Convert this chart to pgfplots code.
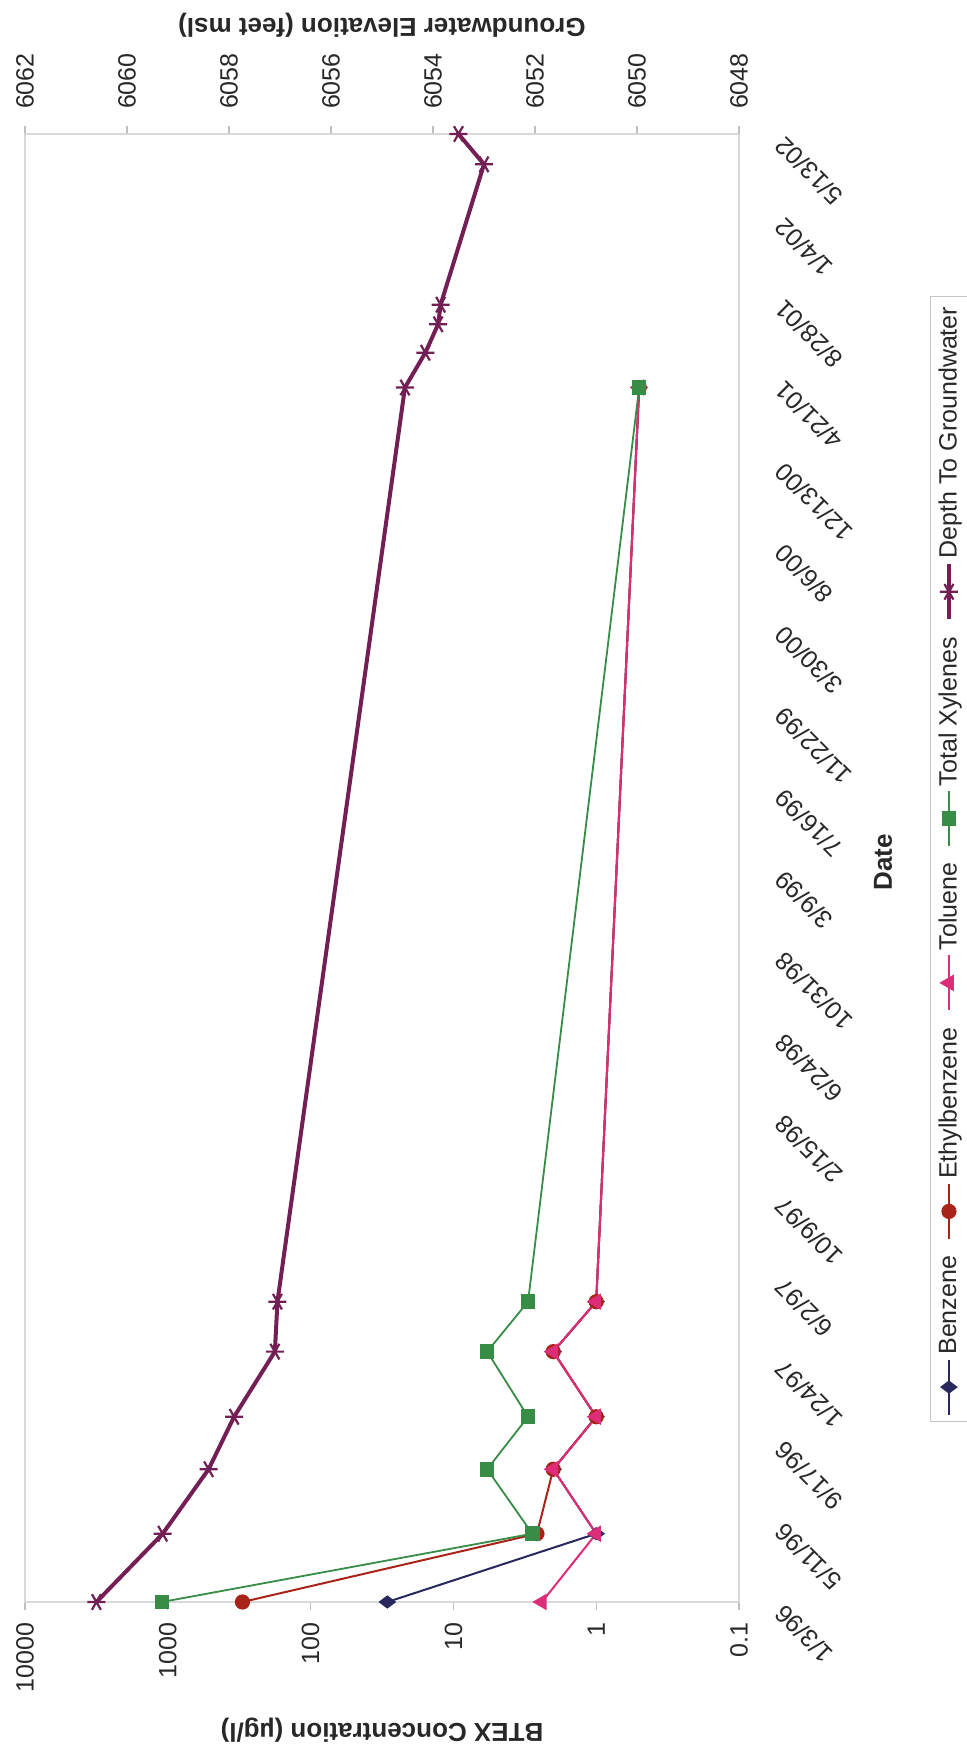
\documentclass[border=0pt]{standalone}
\usepackage{graphicx}
\usepackage{fontspec}
\setmainfont{Liberation Sans}
\usepackage{pgfplots}
\pgfplotsset{compat=1.18}
\definecolor{benz}{RGB}{40,40,95}
\definecolor{ethyl}{RGB}{170,35,25}
\definecolor{tolu}{RGB}{222,45,120}
\definecolor{xyl}{RGB}{55,140,70}
\definecolor{depth}{RGB}{115,30,85}
\definecolor{txt}{RGB}{40,40,40}
\newcommand\ticksize{\fontsize{12.5}{15}\selectfont}
\newcommand\titlesize{\bfseries\fontsize{13}{16}\selectfont}
\pgfplotsset{
  bstyle/.style={color=benz,line width=1pt,mark=diamond*,mark size=3.6pt,mark options={solid,fill=benz}},
  estyle/.style={color=ethyl,line width=1pt,mark=*,mark size=3.3pt,mark options={solid,fill=ethyl}},
  tstyle/.style={color=tolu,line width=1pt,mark=triangle*,mark size=3.8pt,mark options={solid,fill=tolu}},
  xstyle/.style={color=xyl,line width=0.9pt,mark=square*,mark size=3.2pt,mark options={solid,fill=xyl}},
  dstyle/.style={color=depth,line width=2pt,mark=asterisk,mark size=4.5pt,mark options={solid,line width=1.1pt}},
}
\begin{document}
\rotatebox{90}{%
\begin{tikzpicture}
\useasboundingbox (0,0) rectangle (873.5pt,483.5pt);
\begin{axis}[
  at={(72.5pt,114pt)}, anchor=south west, scale only axis,
  width=734pt, height=357pt,
  xmin=0, xmax=2322, ymode=log, ymin=0.1, ymax=10000,
  clip=false,
  axis line style={gray!30, line width=0.6pt},
  xtick={0,129,258,387,516,645,774,903,1032,1161,1290,1419,1548,1677,1806,1935,2064,2193,2322},
  xticklabels={1/3/96,5/11/96,9/17/96,1/24/97,6/2/97,10/9/97,2/15/98,6/24/98,10/31/98,3/9/99,7/16/99,11/22/99,3/30/00,8/6/00,12/13/00,4/21/01,8/28/01,1/4/02,5/13/02},
  xtick style={draw=none},
  xticklabel style={font=\ticksize, text=txt, xshift=-7pt, yshift=-8pt, rotate=45, anchor=north east},
  ytick={0.1,1,10,100,1000,10000},
  yticklabels={0.1,1,10,100,1000,10000},
  yminorticks=false,
  ytick pos=left,
  ytick style={gray!50, line width=0.6pt},
  tick align=outside, major tick length=4pt,
  yticklabel style={font=\ticksize, text=txt, xshift=-3pt},
  xlabel={Date}, ylabel={BTEX Concentration (µg/l)},
  every axis x label/.style={at={(axis description cs:0.504,-0.2017)}, anchor=center, font=\titlesize, text=txt},
  every axis y label/.style={at={(axis description cs:-0.0872,0.5)}, anchor=center, rotate=90, font=\titlesize, text=txt},
]
\addplot[bstyle] coordinates {(0,29) (108,1) (210,2) (293,1) (396,2) (475,1) (1921,0.5)};
\addplot[estyle] coordinates {(0,300) (108,2.6) (210,2) (293,1) (396,2) (475,1) (1921,0.5)};
\addplot[tstyle] coordinates {(0,2.4) (108,1) (210,2) (293,1) (396,2) (475,1) (1921,0.5)};
\addplot[xstyle] coordinates {(0,1100) (108,2.8) (210,5.8) (293,3) (396,5.8) (475,3) (1921,0.5)};
\end{axis}
\begin{axis}[
  at={(72.5pt,114pt)}, anchor=south west, scale only axis,
  width=734pt, height=357pt,
  xmin=0, xmax=2322, ymin=6048, ymax=6062,
  clip=false,
  axis x line=none, axis y line*=right,
  axis line style={gray!30, line width=0.6pt},
  ytick={6048,6050,6052,6054,6056,6058,6060,6062},
  ytick style={gray!50, line width=0.6pt},
  tick align=outside, major tick length=4pt,
  yticklabel style={font=\ticksize, text=txt, xshift=5pt},
  /pgf/number format/1000 sep={},
  /pgf/number format/assume math mode=true,
  ylabel={Groundwater Elevation (feet msl)},
  every axis y label/.style={at={(axis description cs:1.0743,0.5)}, anchor=center, rotate=90, font=\titlesize, text=txt},
  legend columns=5,
  legend style={at={(axis description cs:0.506,-0.2675)}, anchor=north, draw=gray!45, font=\ticksize, text=txt,
    /tikz/every even column/.append style={column sep=6pt}},
  legend image code/.code={\draw[mark repeat=2,mark phase=2] plot coordinates {(0pt,0pt) (13.75pt,0pt) (27.5pt,0pt)};},
]
\addlegendimage{bstyle}\addlegendentry{Benzene}
\addlegendimage{estyle}\addlegendentry{Ethylbenzene}
\addlegendimage{tstyle}\addlegendentry{Toluene}
\addlegendimage{xstyle}\addlegendentry{Total Xylenes}
\addplot[dstyle] coordinates {(0,6060.6) (108,6059.3) (210,6058.4) (293,6057.9) (396,6057.1) (475,6057.05) (1921,6054.55) (1976,6054.15) (2021,6053.9) (2052,6053.85) (2274,6053.0) (2322,6053.5)};
\addlegendentry{Depth To Groundwater}
\end{axis}
\end{tikzpicture}}
\end{document}
